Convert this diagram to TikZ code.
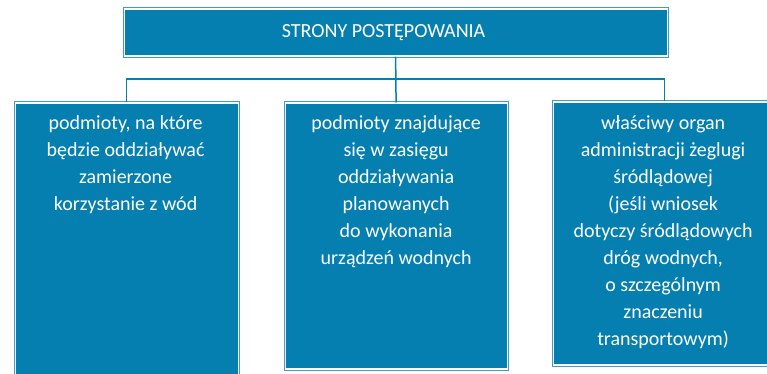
\documentclass[tikz,border=0pt]{standalone}
\usepackage{fontspec}
\setmainfont{Carlito}
\definecolor{fillc}{HTML}{057FB0}
\definecolor{edgec}{HTML}{3C9DCC}
\begin{document}
\begin{tikzpicture}[x=1pt,y=1pt,
  box/.style={rectangle, fill=fillc, draw=white, line width=1.2pt,
    preaction={draw=edgec, line width=3.2pt}, inner sep=0pt, anchor=north west},
  txt/.style={text=white, align=center, inner sep=0pt, anchor=north,
    font=\fontsize{20}{27}\selectfont},
  conn/.style={draw=fillc, line width=1.5pt}]
\clip (0,0) rectangle (767,374);
\useasboundingbox (0,0) rectangle (767,374);
% boxes
\node[box, minimum width=543pt, minimum height=47pt] (top) at (123.5,365.5) {};
\node[box, minimum width=223pt, minimum height=300pt] (lft) at (14.5,271.5) {};
\node[box, minimum width=222pt, minimum height=266pt] (mid) at (284.5,271.5) {};
\node[box, minimum width=223pt, minimum height=263pt] (rgt) at (552.5,272.5) {};
% connectors
\coordinate (hl) at (126,295);
\draw[conn] (top.south) -- (mid.north);
\draw[conn] (lft.north) -- (lft.north |- hl) -| (rgt.north);
% texts
\node[text=white, font=\fontsize{20}{27}\selectfont, inner sep=0pt] (ttop) at ([xshift=-12pt]top.center) {STRONY POSTĘPOWANIA};
\node[txt] (tlft) at ([xshift=-1pt,yshift=-13pt]lft.north) {podmioty, na które\\będzie oddziaływać\\zamierzone\\korzystanie z wód};
\node[txt] (tmid) at ([yshift=-13pt]mid.north) {podmioty znajdujące\\się w zasięgu\\oddziaływania\\planowanych\\do wykonania\\urządzeń wodnych};
\node[txt] (trgt) at ([xshift=-1.5pt,yshift=-14pt]rgt.north) {właściwy organ\\administracji żeglugi\\śródlądowej\\(jeśli wniosek\\dotyczy śródlądowych\\dróg wodnych,\\o szczególnym\\znaczeniu\\transportowym)};
\end{tikzpicture}
\end{document}
